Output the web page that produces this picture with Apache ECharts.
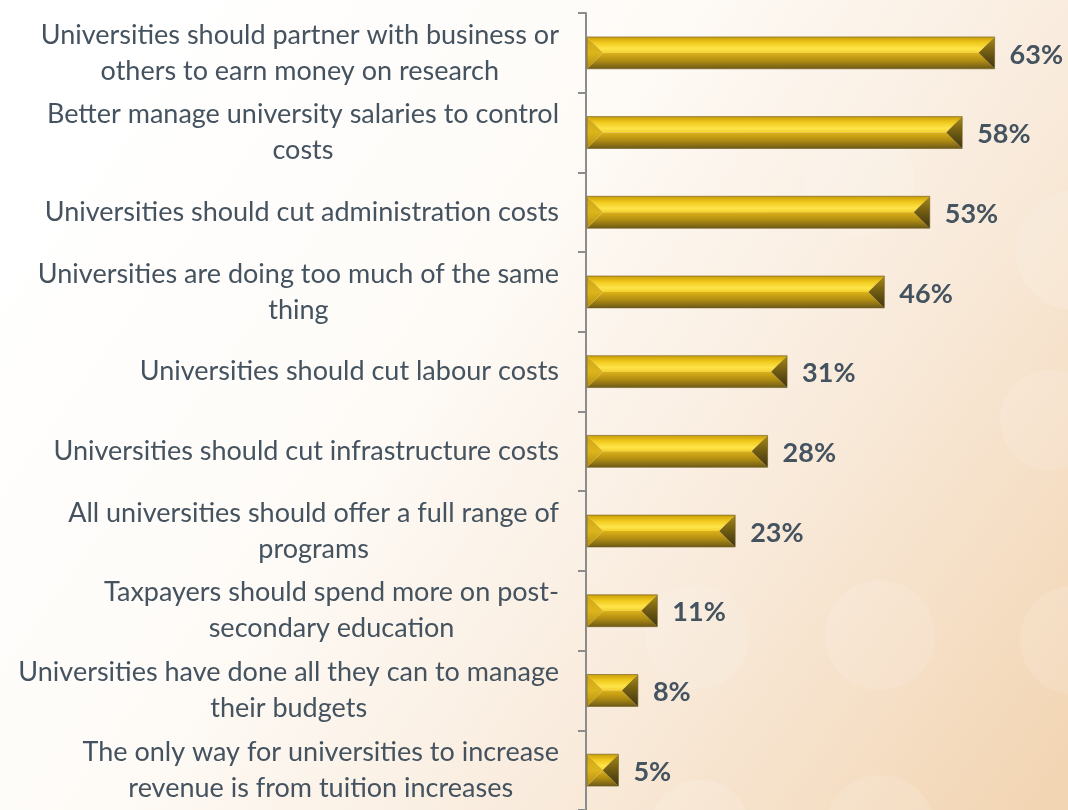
<!DOCTYPE html>
<html>
<head>
<meta charset="utf-8">
<script src="https://cdn.jsdelivr.net/npm/echarts@6/dist/echarts.min.js"></script>
<style>
html,body{margin:0;padding:0;width:1068px;height:810px;overflow:hidden;}
#chart{width:1068px;height:810px;}
</style>
</head>
<body>
<div id="chart"></div>
<script>
const categories = [
  "Universities should partner with business or\nothers to earn money on research",
  "Better manage university salaries to control\ncosts",
  "Universities should cut administration costs",
  "Universities are doing too much of the same\nthing",
  "Universities should cut labour costs",
  "Universities should cut infrastructure costs",
  "All universities should offer a full range of\nprograms",
  "Taxpayers should spend more on post-\nsecondary education",
  "Universities have done all they can to manage\ntheir budgets",
  "The only way for universities to increase\nrevenue is from tuition increases"
];
const values = [63, 58, 53, 46, 31, 28, 23, 11, 8, 5];

const TEXT_COLOR = '#44535f';
const chart = echarts.init(document.getElementById('chart'));

function lin(x1, y1, x2, y2, stops) {
  return new echarts.graphic.LinearGradient(x1, y1, x2, y2,
    stops.map(s => ({offset: s[0], color: s[1]})));
}

function renderItem(params, api) {
  const v = api.value(0), c = api.value(1);
  const p0 = api.coord([0, c]);
  const p1 = api.coord([v, c]);
  const band = api.size([0, 1])[1];
  const h = band * 0.4;
  const x0 = p0[0] + 1, x1 = p1[0];
  const yc = p0[1];
  const yT = yc - h / 2, yB = yc + h / 2;
  const d = Math.min(h / 2, (x1 - x0) / 2);
  const children = [
    {type: 'polygon', shape: {points: [[x0, yT], [x1, yT], [x1 - d, yc], [x0 + d, yc]]},
      style: {fill: lin(0, 0, 0, 1, [[0, '#c99d0a'], [0.35, '#f0c81c'], [0.75, '#ffe54a'], [1, '#f4cf2a']])}},
    {type: 'polygon', shape: {points: [[x0 + d, yc], [x1 - d, yc], [x1, yB], [x0, yB]]},
      style: {fill: lin(0, 0, 0, 1, [[0, '#dcb218'], [0.5, '#b08c12'], [1, '#6e5a18']])}},
    {type: 'polygon', shape: {points: [[x0, yT], [x0 + d, yc], [x0, yB]]},
      style: {fill: lin(0, 0, 0, 1, [[0, '#cfa512'], [0.5, '#dcb51c'], [1, '#b08c0f']])}},
    {type: 'polygon', shape: {points: [[x1, yT], [x1, yB], [x1 - d, yc]]},
      style: {fill: lin(0, 0, 0, 1, [[0, '#a88a14'], [0.5, '#6e5a12'], [1, '#3e3410']])}},
    {type: 'rect', shape: {x: x0, y: yT, width: x1 - x0, height: h},
      style: {fill: null, stroke: '#6b5a1e', lineWidth: 1, opacity: 0.6}},
    {type: 'text', style: {text: v + '%', x: x1 + 15, y: yc + 2, verticalAlign: 'middle', align: 'left',
      font: 'bold 27px Lato', fill: TEXT_COLOR}}
  ];
  return {type: 'group', children};
}

const circles = [[697, 637, 52], [880, 635, 55], [1075, 640, 55], [880, 830, 55], [1075, 250, 60], [1050, 420, 50], [700, 830, 50], [860, 180, 55]];

const option = {
  animation: false,
  backgroundColor: lin(0.1, 0.1, 1, 0.95, [
    [0, '#ffffff'], [0.35, '#fefbf7'], [0.65, '#f9ebdc'], [1, '#f2d5b3']
  ]),
  graphic: circles.map(c => ({
    type: 'circle', z: -1, silent: true,
    shape: {cx: c[0], cy: c[1], r: c[2]},
    style: {fill: 'rgba(255,255,255,0.12)'}
  })),
  grid: {left: 586, top: 13, width: 454, height: 800, containLabel: false},
  xAxis: {type: 'value', min: 0, max: 70, show: false},
  yAxis: {
    type: 'category',
    inverse: true,
    data: categories,
    axisLine: {show: true, lineStyle: {color: '#8c8c8c', width: 2}},
    axisTick: {show: true, length: 8, lineStyle: {color: '#8c8c8c', width: 2}},
    axisLabel: {
      margin: 27,
      formatter: function (val) {
        return val.split('\n').map(l => '{c|' + l + '}').join('\n');
      },
      rich: {c: {align: 'center', fontFamily: 'Lato', fontSize: 27, lineHeight: 36, color: TEXT_COLOR}}
    },
    splitLine: {show: false}
  },
  series: [{
    type: 'custom',
    renderItem: renderItem,
    encode: {x: 0, y: 1},
    data: values.map((v, i) => [v, i]),
    clip: false
  }]
};
chart.setOption(option);
</script>
</body>
</html>
